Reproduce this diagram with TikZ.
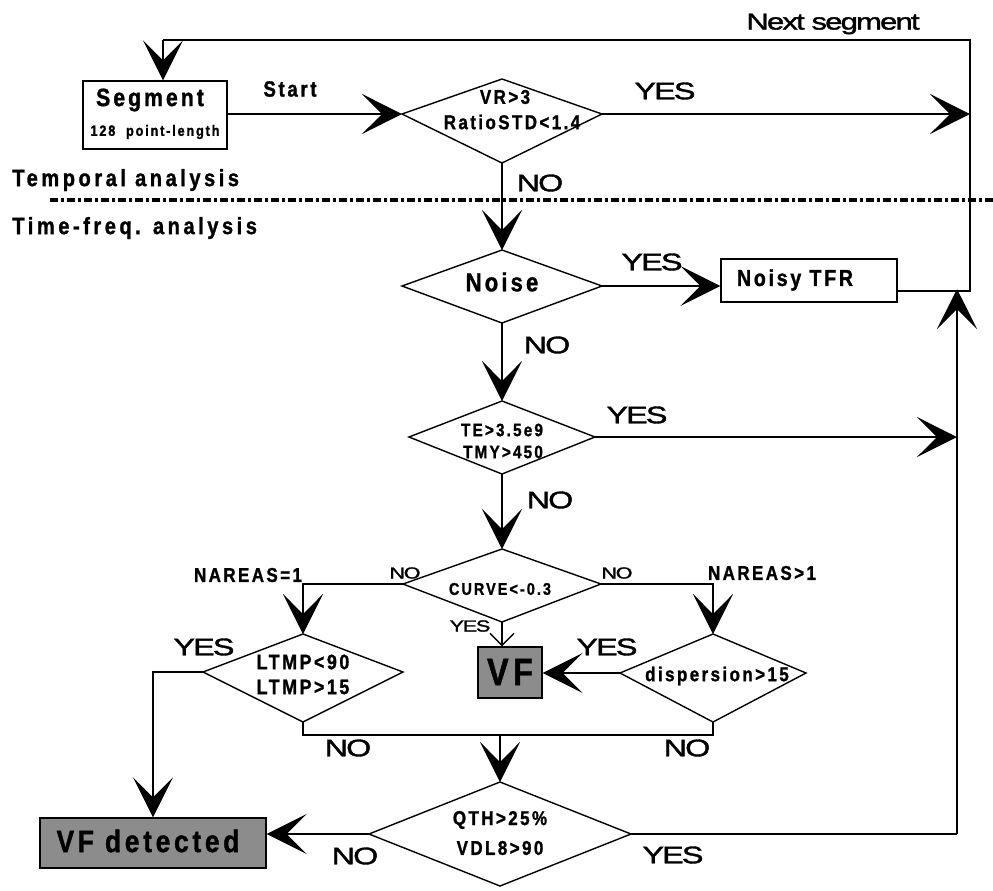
\documentclass[tikz,border=0pt]{standalone}
\usepackage{fontspec}
\setmainfont{Liberation Sans}
\newfontfamily\bsp{Liberation Sans}[FakeStretch=0.85,LetterSpace=12,FakeBold=1.2]
\newfontfamily\bspw{Liberation Sans}[FakeStretch=0.85,LetterSpace=15,FakeBold=1.2]
\newfontfamily\ynf{Liberation Sans}[FakeStretch=1.35,LetterSpace=-8,FakeBold=1.5]
\usetikzlibrary{arrows.meta,calc}
\newcommand\fsz[1]{\fontsize{#1pt}{#1pt}\selectfont}
% name, x, y, half width, up, down
\newcommand\kite[6]{%
  \coordinate (#1) at (#2,#3);
  \coordinate (#1-n) at (#2,#3-#5);
  \coordinate (#1-s) at (#2,#3+#6);
  \coordinate (#1-e) at (#2+#4,#3);
  \coordinate (#1-w) at (#2-#4,#3);
  \draw[ln] (#1-n) -- (#1-e) -- (#1-s) -- (#1-w) -- cycle;}
\tikzset{
  ln/.style={line width=0.7pt, line join=miter},
  arr/.style={ln,-{Stealth[length=20pt,width=20pt,inset=10pt]}},
  sarr/.style={ln,-{Straight Barb[length=6pt,width=12pt]}},
  box/.style={draw,ln,rectangle,inner sep=0pt,fill=white},
  gbox/.style={draw,ln,rectangle,inner sep=0pt,fill=black!45},
  bt/.style={inner sep=0pt,font=\bsp\bfseries\fsz{#1}},
  btw/.style={inner sep=0pt,font=\bspw\bfseries\fsz{#1}},
  yn/.style={inner sep=0pt,font=\ynf\fsz{#1}},
}
\begin{document}
\begin{tikzpicture}[x=0.5pt,y=-0.5pt]
\useasboundingbox (0,0) rectangle (993,891);
% separator
\draw[line width=2.2pt, dash pattern=on 4pt off 1.5pt on 1.5pt off 1.5pt] (50,200) -- (993,200);
% boxes
\node[box,minimum width=72pt,minimum height=34pt] (seg) at (155,115) {};
\node[box,minimum width=88pt,minimum height=21.5pt] (noisy) at (809,280.5) {};
\node[gbox,minimum width=32pt,minimum height=25.5pt] (vf) at (510,672.5) {};
\node[gbox,minimum width=113pt,minimum height=25pt] (vfd) at (153,843) {};
% diamonds
\kite{d1}{502}{114}{100}{35}{49}
\kite{nz}{502}{286}{100}{36}{37}
\kite{te}{502}{437}{93}{36}{37}
\kite{cv}{502}{584}{99}{35}{38}
\kite{lt}{303}{672}{100}{38}{50}
\kite{dp}{713}{673}{93}{39}{49}
\kite{qt}{500}{834}{131}{52}{52}
% helper coordinates
\coordinate (jn) at (970,291);
\coordinate (lpR) at (970,40);
\coordinate (lpL) at (163,40);
\coordinate (rvb) at (957,834);
\coordinate (rvt) at (957,289);
\coordinate (mid) at (500,735);
% connectors
\draw[ln] (noisy.east |- jn) -- (jn) -- (lpR) -- (lpL);
\draw[arr] (lpL) -- (lpL |- seg.north);
\draw[arr] (seg.east |- d1-w) -- (d1-w);
\draw[arr] (d1-e) -- (d1-e -| jn);
\draw[arr] (d1-s) -- (nz-n);
\draw[arr] (nz-e) -- (nz-e -| noisy.west);
\draw[arr] (nz-s) -- (te-n);
\draw[arr] (te-e) -- (te-e -| rvb);
\draw[ln] (qt-e) -- (rvb);
\draw[arr] (rvb) -- (rvt);
\draw[arr] (te-s) -- (cv-n);
\draw[arr] (cv-w) -| (lt-n);
\draw[arr] (cv-e) -| (dp-n);
\draw[sarr] (cv-s) -- (cv-s |- vf.north);
\draw[arr] (dp-w) -- (dp-w -| vf.east);
\draw[arr] (lt-w) -| (vfd.north);
\draw[ln] (lt-s) |- (mid) -| (dp-s);
\draw[arr] (mid) -- (mid |- qt-n);
\draw[arr] (qt-w) -- (qt-w -| vfd.east);
% texts in shapes
\node[bt=12.5] (tseg) at (150,100) {Segment};
\node[bt=7.5] (tseg2) at (155,132) {128\ \ point-length};
\node[bt=10] (td1a) at (505,97) {VR>3};
\node[bt=10] (td1b) at (512,122) {RatioSTD<1.4};
\node[bt=13] (tnz) at (502,282) {Noise};
\node[bt=11.5] (tnoisy) at (795,280) {Noisy TFR};
\node[bt=9] (tte1) at (502,430) {TE>3.5e9};
\node[bt=9] (tte2) at (503,452) {TMY>450};
\node[bt=8.5] (tcv) at (500,589) {CURVE<-0.3};
\node[bt=10.5] (tlt1) at (303,662) {LTMP<90};
\node[bt=10.5] (tlt2) at (303,687) {LTMP>15};
\node[bt=10] (tdp) at (717,676) {dispersion>15};
\node[bt=10] (tqt1) at (500,820) {QTH>25\%};
\node[bt=10] (tqt2) at (500,848) {VDL8>90};
\node[bt=19] (tvf) at (510,672) {VF};
\node[bt=15.5] (tvfd) at (148,841) {VF detected};
% other labels
\node[bt=11] (tstart) at (290,89) {Start};
\node[btw=11.8,anchor=west] (ttemp) at (12,180) {Temporal analysis};
\node[btw=11.8,anchor=west] (ttf) at (12,228) {Time-freq. analysis};
\node[bt=10] (tna1) at (248,575) {NAREAS=1};
\node[bt=10] (tna2) at (762,573) {NAREAS>1};
\node[yn=11.5] (tnext) at (833,24) {Next segment};
\node[yn=12] (y1) at (665,91) {YES};
\node[yn=12] (n1) at (540,183) {NO};
\node[yn=12] (y2) at (652,262) {YES};
\node[yn=12] (n2) at (547,345) {NO};
\node[yn=12] (y3) at (637,415) {YES};
\node[yn=12] (n3) at (550,500) {NO};
\node[yn=8] (n4) at (405,573) {NO};
\node[yn=8] (n5) at (617,573) {NO};
\node[yn=8] (y4) at (470,626) {YES};
\node[yn=12] (y5) at (607,647) {YES};
\node[yn=12] (y6) at (204,647) {YES};
\node[yn=12] (n6) at (348,748) {NO};
\node[yn=12] (n7) at (687,748) {NO};
\node[yn=12] (n8) at (355,856) {NO};
\node[yn=12] (y7) at (673,855) {YES};
\end{tikzpicture}
\end{document}
